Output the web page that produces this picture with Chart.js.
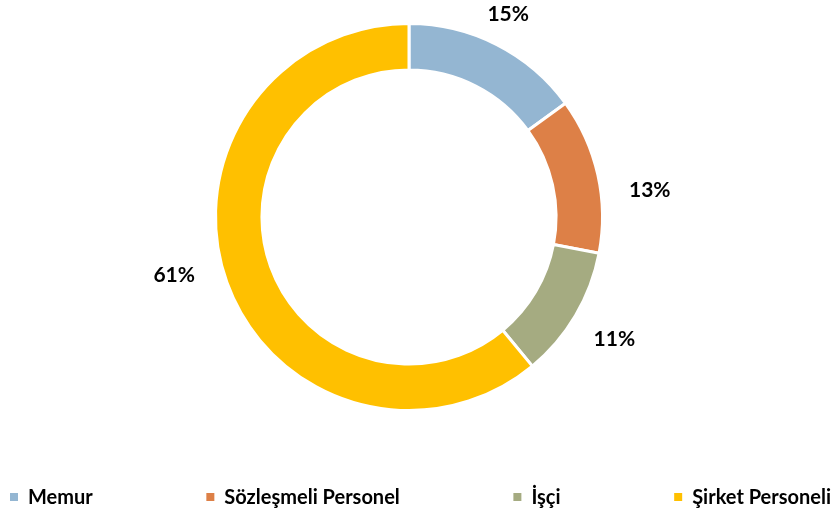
<!DOCTYPE html>
<html>
<head>
<meta charset="utf-8">
<script src="https://cdn.jsdelivr.net/npm/chart.js@4/dist/chart.umd.min.js"></script>
<style>
  html, body { margin: 0; padding: 0; background: #fff; }
  #wrap { width: 832px; height: 511px; position: relative; }
</style>
</head>
<body>
<div id="wrap"><canvas id="pieChart" width="832" height="511"></canvas></div>
<script>
var labels = ["Memur", "Sözleşmeli Personel", "İşçi", "Şirket Personeli"];
var values = [15, 13, 11, 61];
var colors = ["#94B6D2", "#DD8047", "#A5AB81", "#FFC000"];
// label placement nudge (degrees), like Excel's best-fit
var labelShift = [-1, 6, 0, 6];

var FONT = "Lato, 'Open Sans', sans-serif";

// percent labels outside the ring
var outsideLabels = {
	id: 'outsideLabels',
	afterDatasetsDraw: function(chart) {
		var ctx = chart.ctx;
		var meta = chart.getDatasetMeta(0);
		var total = values.reduce(function(a, b) { return a + b; }, 0);
		ctx.save();
		ctx.font = "bold 21px " + FONT;
		ctx.fillStyle = "#000";
		ctx.textAlign = "center";
		ctx.textBaseline = "middle";
		meta.data.forEach(function(arc, i) {
			var p = arc.getProps(['x', 'y', 'startAngle', 'endAngle', 'outerRadius'], true);
			var mid = (p.startAngle + p.endAngle) / 2 + labelShift[i] * Math.PI / 180;
			var txt = Math.round(values[i] / total * 100) + "%";
			var halfW = ctx.measureText(txt).width / 2;
			var r = p.outerRadius + 20 + halfW * 1.4 * Math.abs(Math.cos(mid));
			var x = p.x + Math.cos(mid) * r;
			var y = p.y + Math.sin(mid) * r;
			ctx.fillText(txt, x, y + 1);
		});
		ctx.restore();
	}
};

// legend row across the bottom
var bottomLegend = {
	id: 'bottomLegend',
	afterDraw: function(chart) {
		var ctx = chart.ctx;
		var left = 10, right = 831, y = 497, box = 8, gap = 10;
		ctx.save();
		ctx.font = "bold 20px " + FONT;
		ctx.textBaseline = "middle";
		ctx.textAlign = "left";
		var widths = labels.map(function(t) { return box + gap + ctx.measureText(t).width; });
		var used = widths.reduce(function(a, b) { return a + b; }, 0);
		var space = (right - left - used) / (labels.length - 1);
		var x = left;
		labels.forEach(function(t, i) {
			ctx.fillStyle = colors[i];
			ctx.fillRect(x, y - box / 2, box, box);
			ctx.fillStyle = "#000";
			ctx.fillText(t, x + box + gap, y + 1);
			x += widths[i] + space;
		});
		ctx.restore();
	}
};

var pieChart = new Chart(document.getElementById("pieChart").getContext("2d"), {
	type: 'doughnut',
	data: {
		labels: labels,
		datasets: [{
			data: values,
			backgroundColor: colors,
			borderColor: "#fff",
			borderWidth: 3,
			hoverOffset: 0
		}]
	},
	options: {
		responsive: false,
		animation: false,
		cutout: '76%',
		layout: { padding: { top: 22, bottom: 99, left: 0, right: 14 } },
		plugins: {
			legend: { display: false },
			tooltip: { enabled: false }
		}
	},
	plugins: [outsideLabels, bottomLegend]
});
</script>
</body>
</html>
